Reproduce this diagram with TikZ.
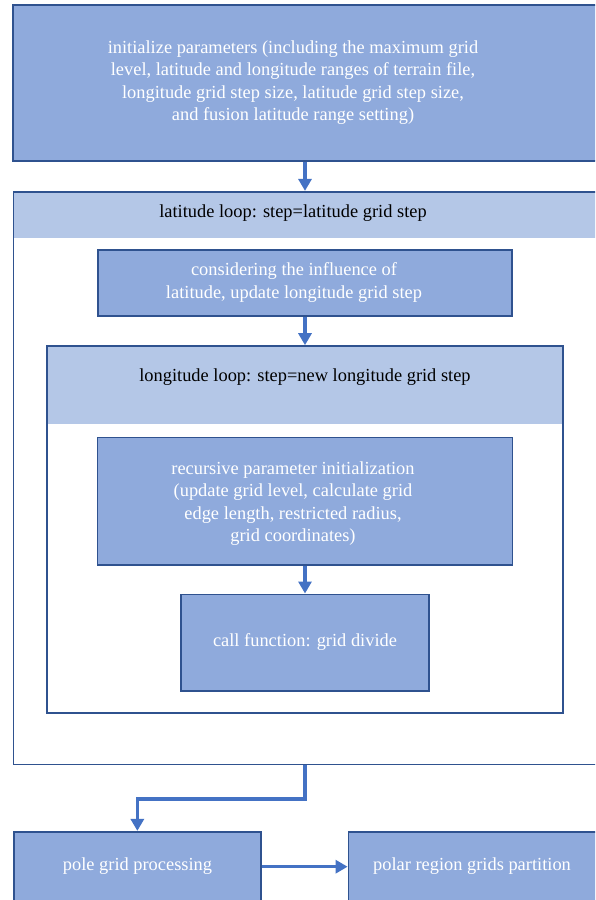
\documentclass[tikz,border=0pt]{standalone}
\usepackage{fontspec}
\setmainfont{Liberation Serif}
\usetikzlibrary{arrows.meta}

\definecolor{boxfill}{HTML}{8FAADC}
\definecolor{headfill}{HTML}{B4C7E7}
\definecolor{boxline}{HTML}{2F528F}
\definecolor{flowblue}{HTML}{4472C4}

\tikzset{
  procbox/.style={rectangle, draw=boxline, fill=boxfill, line width=1.6pt, inner sep=0pt},
  loopframe/.style={rectangle, draw=boxline, line width=1.6pt, inner sep=0pt},
  loophead/.style={rectangle, fill=headfill, draw=none, inner sep=0pt},
  lighttext/.style={text=white, align=center, inner sep=0pt, font=\fontsize{18.4}{22.6}\selectfont},
  darktext/.style={text=black, align=center, inner sep=0pt, font=\fontsize{18.4}{22.6}\selectfont},
  flowarrow/.style={draw=flowblue, line width=3.5pt, line join=miter,
    -{Triangle[width=13pt,length=12pt]}}
}

\begin{document}
\begin{tikzpicture}[x=1pt,y=-1pt]
  \useasboundingbox (0,0) rectangle (595,900);
  \clip (0,0) rectangle (595,900);
  \fill[white] (0,0) rectangle (595,900);

  % parameter initialisation
  \node[procbox, minimum width=584pt, minimum height=155.7pt] (init) at (305,82.85) {};
  \node[lighttext] (inittxt) at (293,82.5) {initialize parameters (including the maximum grid\\
    level, latitude and longitude ranges of terrain file,\\
    longitude grid step size, latitude grid step size,\\
    and fusion latitude range setting)};

  % latitude loop
  \node[loophead, minimum width=583pt, minimum height=46.6pt] (lathead) at (305,215) {};
  \node[loopframe, minimum width=583pt, minimum height=572.6pt] (lat) at (305,478) {};
  \node[darktext] (lattxt) at (293,213) {latitude loop: step=latitude grid step};

  \node[procbox, minimum width=414pt, minimum height=66pt] (consider) at (305,283) {};
  \node[lighttext] (considertxt) at (294,282.5) {considering the influence of\\
    latitude, update longitude grid step};

  % longitude loop
  \node[loophead, minimum width=516pt, minimum height=78.3pt] (lonhead) at (305,385.15) {};
  \node[loopframe, minimum width=516pt, minimum height=367pt] (lon) at (305,529.5) {};
  \node[darktext] (lontxt) at (305,377) {longitude loop: step=new longitude grid step};

  \node[procbox, minimum width=415pt, minimum height=127.7pt] (recur) at (305,501.2) {};
  \node[lighttext] (recurtxt) at (293,503.5) {recursive parameter initialization\\
    (update grid level, calculate grid\\
    edge length, restricted radius,\\
    grid coordinates)};

  \node[procbox, minimum width=248pt, minimum height=96.4pt] (call) at (305,642.5) {};
  \node[lighttext] (calltxt) at (305,642) {call function: grid divide};

  % pole handling
  \node[procbox, minimum width=247.3pt, minimum height=70pt] (pole) at (137.35,866.7) {};
  \node[lighttext] (poletxt) at (137.5,866) {pole grid processing};

  \node[procbox, minimum width=271.6pt, minimum height=70pt] (polar) at (484.2,866.7) {};
  \node[lighttext] (polartxt) at (472,866) {polar region grids partition};

  % flow
  \draw[flowarrow] (init.south) -- (lat.north);
  \draw[flowarrow] (consider.south) -- (lon.north);
  \draw[flowarrow] (recur.south) -- (call.north);
  \draw[flowarrow] (lat.south) -- ++(0,34) -| (pole.north);
  \draw[flowarrow] (pole.east) -- (polar.west);
\end{tikzpicture}
\end{document}
